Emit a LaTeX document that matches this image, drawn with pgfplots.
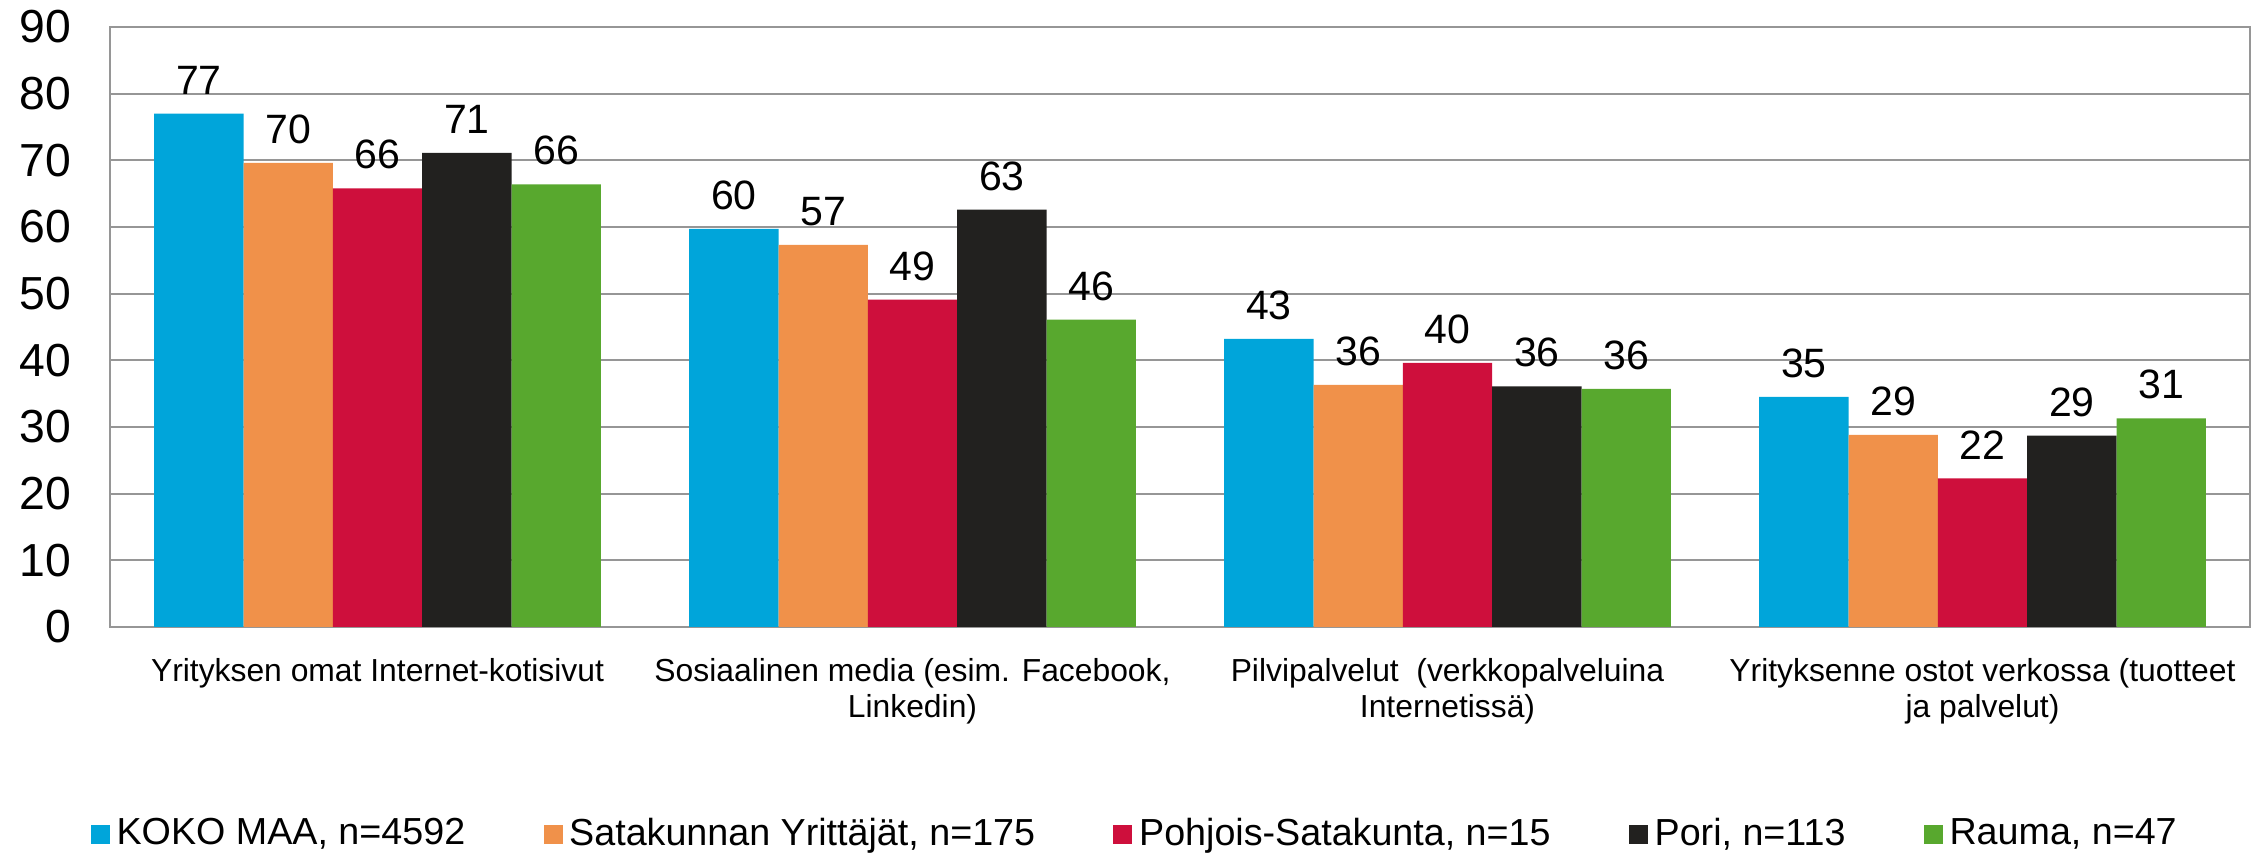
\documentclass[border=0pt]{standalone}
\usepackage{fontspec}
\setmainfont{Liberation Sans}
\usepackage{pgfplots}
\pgfplotsset{compat=1.18}
\usetikzlibrary{calc}
\definecolor{cblue}{RGB}{0,165,218}
\definecolor{corange}{RGB}{240,145,74}
\definecolor{cred}{RGB}{206,15,60}
\definecolor{cblack}{RGB}{34,33,31}
\definecolor{cgreen}{RGB}{88,168,46}
\definecolor{cgrid}{RGB}{150,150,150}
\begin{document}
\begin{tikzpicture}
\begin{axis}[name=ax,
  scale only axis, width=642pt, height=180pt,
  ybar=0pt, bar width=26.8pt,
  xmin=-0.5, xmax=3.5, ymin=0, ymax=90,
  xtick={0,1,2,3},
  xticklabels={Yrityksen omat Internet-kotisivut,
    {Sosiaalinen media (esim. Facebook,\\ Linkedin)},
    {Pilvipalvelut\ \ (verkkopalveluina\\ Internetissä)},
    {Yrityksenne ostot verkossa (tuotteet\\ ja palvelut)}},
  ytick={0,10,...,90},
  ymajorgrids, major grid style={cgrid, line width=0.6pt},
  axis line style={cgrid, line width=0.6pt},
  major tick length=0pt, tick style={draw=none},
  /pgf/number format/assume math mode=true,
  yticklabel style={font=\fontsize{13.9}{16}\selectfont, xshift=-8.2pt},
  xticklabel style={font=\fontsize{9.55}{10.8}\selectfont, align=center, yshift=-6pt},
  nodes near coords={\pgfmathprintnumber[fixed,precision=0]{\pgfplotspointmeta}},
  nodes near coords style={font=\fontsize{12.3}{14}\selectfont, text=black, yshift=2.2pt},
  legend style={at={(0.48,-0.3456)}, anchor=center, draw=none,
    font=\fontsize{11.3}{13.5}\selectfont,
    /tikz/every even column/.append style={column sep=21.5pt}},
  legend columns=-1,
  legend image code/.code={\fill[#1] (0pt,-2.85pt) rectangle (5.7pt,2.85pt);},
]
\addplot[fill=cblue, draw=none] coordinates {(0,77.0) (1,59.7) (2,43.2) (3,34.5)};
\addplot[fill=corange, draw=none] coordinates {(0,69.6) (1,57.3) (2,36.3) (3,28.8)};
\addplot[fill=cred, draw=none] coordinates {(0,65.8) (1,49.1) (2,39.6) (3,22.3)};
\addplot[fill=cblack, draw=none] coordinates {(0,71.1) (1,62.6) (2,36.1) (3,28.7)};
\addplot[fill=cgreen, draw=none] coordinates {(0,66.4) (1,46.1) (2,35.7) (3,31.3)};
\legend{KOKO MAA{,} n=4592, Satakunnan Yrittäjät{,} n=175, Pohjois-Satakunta{,} n=15, Pori{,} n=113, Rauma{,} n=47}
\end{axis}
\pgfresetboundingbox
\path[use as bounding box] ($(ax.south west)+(-33pt,-67.8pt)$) rectangle ($(ax.north east)+(5.1pt,8.1pt)$);
\end{tikzpicture}
\end{document}
